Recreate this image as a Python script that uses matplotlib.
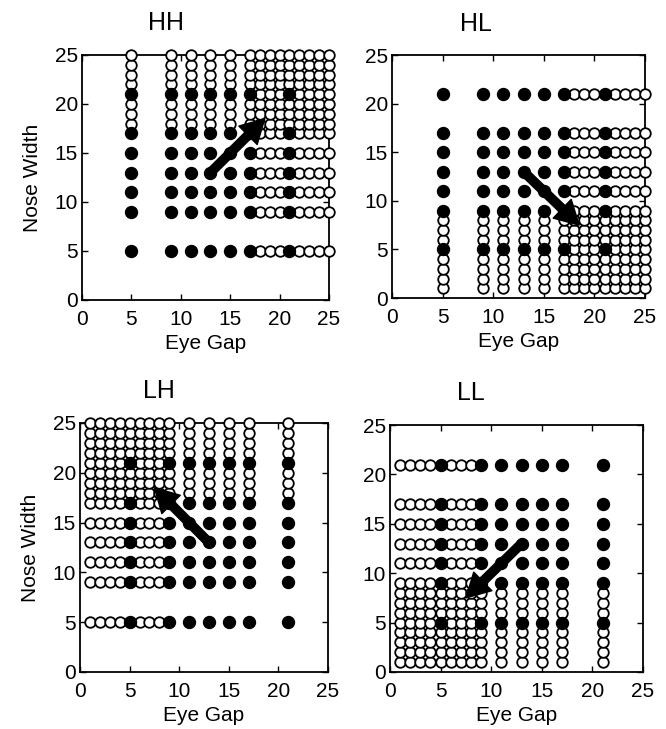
import matplotlib
matplotlib.use("Agg")
import matplotlib.pyplot as plt

plt.rcParams["font.family"] = ["Liberation Sans", "DejaVu Sans"]

# grid values (eye gap / nose width) sampled in each condition
high_vals = [5, 9, 11, 13, 15, 17, 18, 19, 20, 21, 22, 23, 24, 25]
low_vals = [1, 2, 3, 4, 5, 6, 7, 8, 9, 11, 13, 15, 17, 21]
# points on this coarse grid are drawn filled
filled_vals = [5, 9, 11, 13, 15, 17, 21]

conditions = ["HH", "HL", "LH", "LL"]
eye_sets = [high_vals, high_vals, low_vals, low_vals]
nose_sets = [high_vals, low_vals, high_vals, low_vals]

arrow_start = (13, 13)
arrow_ends = [(18.5, 18.5), (18.5, 7.5), (7.5, 18.5), (7.5, 7.5)]

ticks = [0, 5, 10, 15, 20, 25]

# axes rectangles in figure fractions
positions = [
    [0.1231, 0.5885, 0.3709, 0.3361],
    [0.5886, 0.5912, 0.3799, 0.3333],
    [0.1201, 0.0782, 0.3724, 0.3416],
    [0.5856, 0.0782, 0.3799, 0.3388],
]
title_x = [0.34, 0.33, 0.32, 0.32]

fig = plt.figure(figsize=(6.66, 7.29), dpi=100)

for i, cond in enumerate(conditions):
    ax = fig.add_axes(positions[i])
    open_x, open_y, fill_x, fill_y = [], [], [], []
    for ex in eye_sets[i]:
        for ny in nose_sets[i]:
            if ex in filled_vals and ny in filled_vals:
                fill_x.append(ex)
                fill_y.append(ny)
            else:
                open_x.append(ex)
                open_y.append(ny)

    ax.plot(open_x, open_y, "o", ms=7.6, mfc="white", mec="black",
            mew=1.3, clip_on=False, zorder=3)
    ax.plot(fill_x, fill_y, "o", ms=8.6, mfc="black", mec="black",
            mew=1.0, clip_on=False, zorder=4)

    ax.annotate("", xy=arrow_ends[i], xytext=arrow_start,
                arrowprops=dict(arrowstyle="simple,head_length=0.5,head_width=0.55,tail_width=0.18",
                                color="black", mutation_scale=34,
                                shrinkA=0, shrinkB=0),
                zorder=5)

    ax.set_xlim(0, 25)
    ax.set_ylim(0, 25)
    ax.set_xticks(ticks)
    ax.set_yticks(ticks)
    ax.tick_params(direction="in", length=4, width=1.0, top=True, right=True,
                   labelsize=15)
    ax.tick_params(axis="x", pad=7)
    ax.tick_params(axis="y", pad=3)
    for sp in ax.spines.values():
        sp.set_linewidth(1.3)

    ax.set_xlabel("Eye Gap", fontsize=15, labelpad=4)
    if i % 2 == 0:
        ax.set_ylabel("Nose Width", fontsize=15, labelpad=9)

    ax.text(title_x[i], 1.1, cond, transform=ax.transAxes, ha="center",
            va="baseline", fontsize=18)

fig.savefig("out.png", dpi=100)
